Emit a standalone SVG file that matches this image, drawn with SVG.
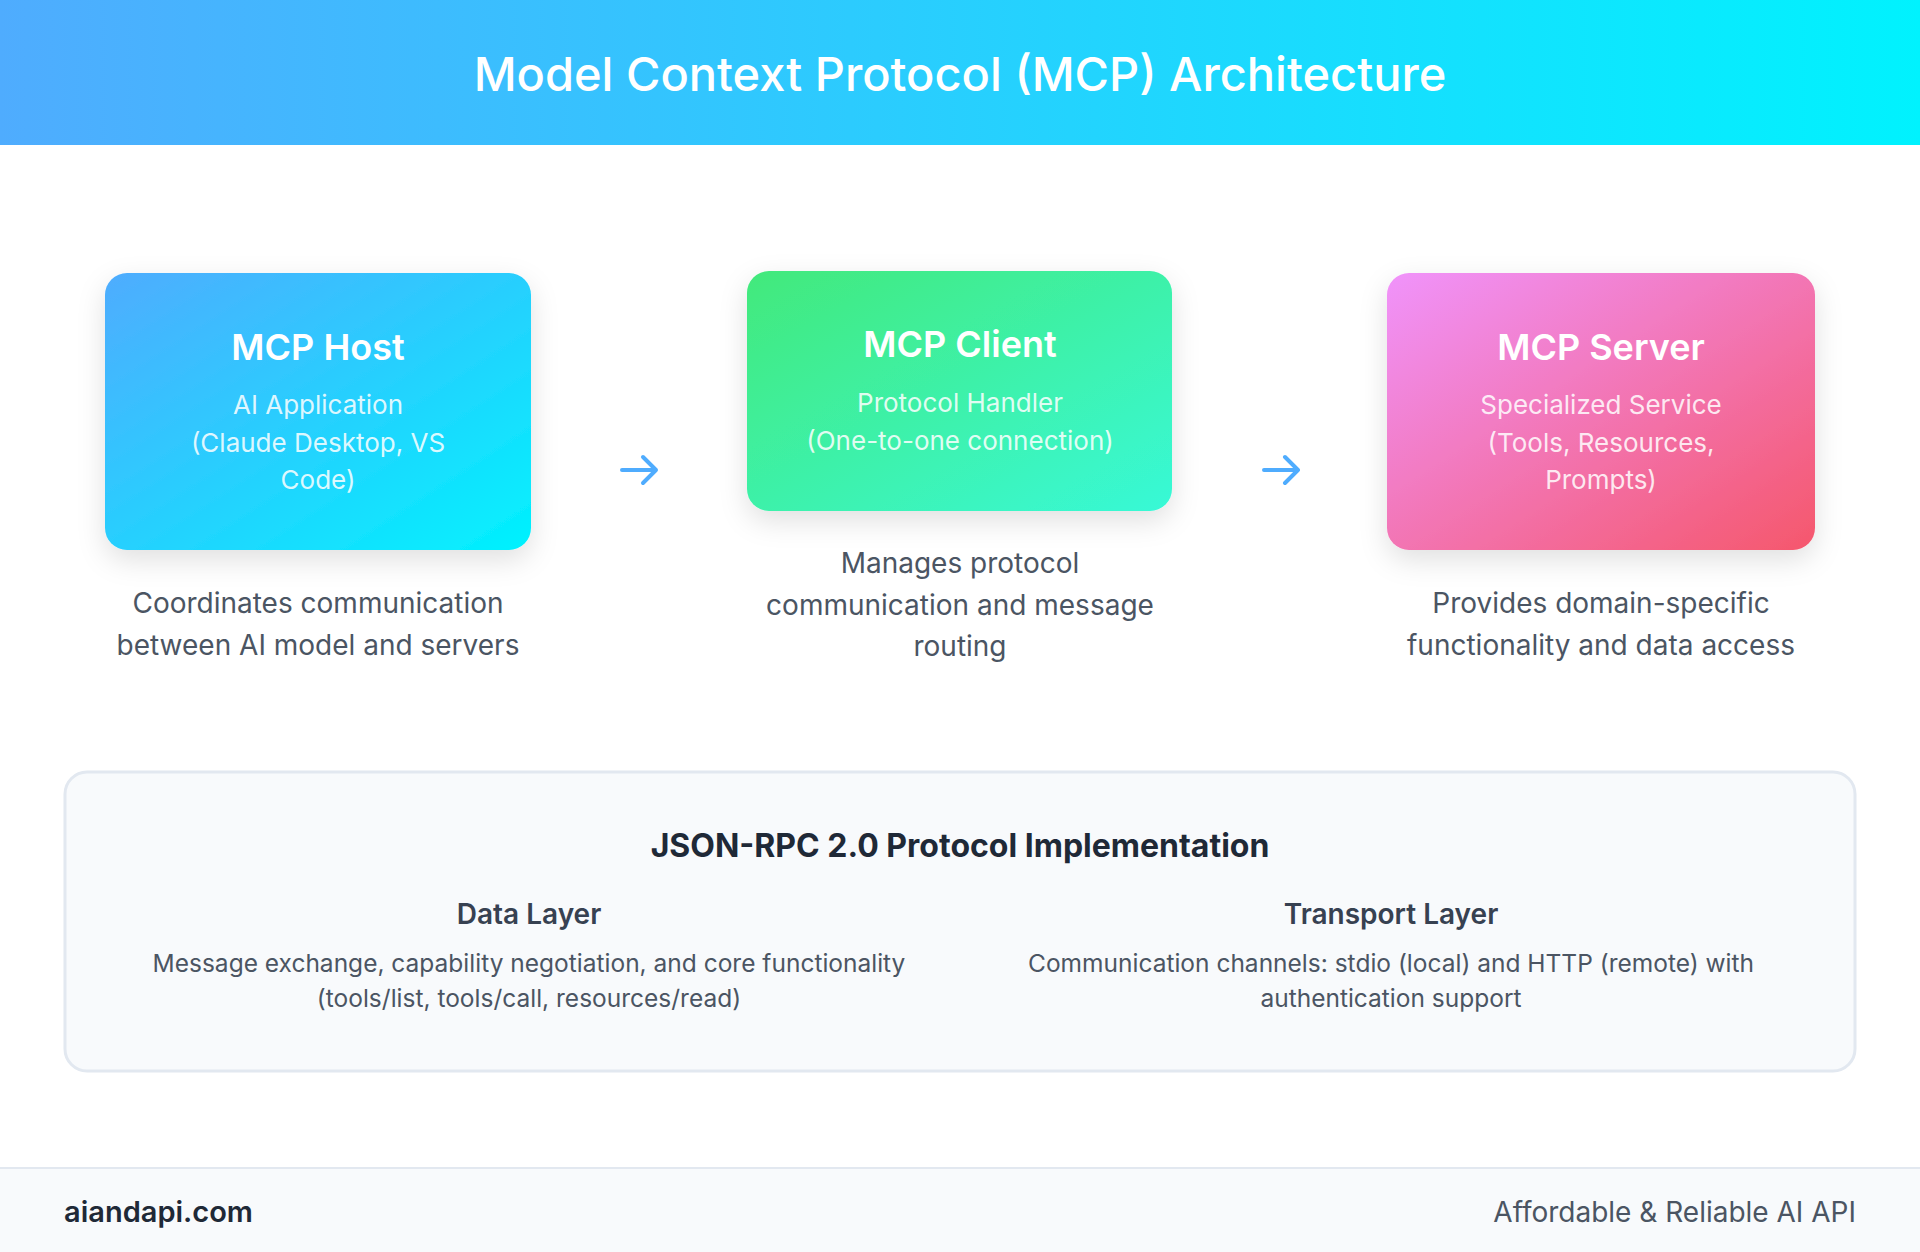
<svg xmlns="http://www.w3.org/2000/svg" width="1920" height="1252" viewBox="0 0 1920 1252">
<defs>
<linearGradient id="gHead" x1="0" y1="0" x2="1" y2="0"><stop offset="0" stop-color="#4facfe"/><stop offset="1" stop-color="#00f2fe"/></linearGradient>
<linearGradient id="gHost" x1="0" y1="0" x2="1" y2="1"><stop offset="0" stop-color="#4facfe"/><stop offset="1" stop-color="#00f2fe"/></linearGradient>
<linearGradient id="gClient" x1="0" y1="0" x2="1" y2="1"><stop offset="0" stop-color="#43e97b"/><stop offset="1" stop-color="#38f9d7"/></linearGradient>
<linearGradient id="gServer" x1="0" y1="0" x2="1" y2="1"><stop offset="0" stop-color="#f093fb"/><stop offset="1" stop-color="#f5576c"/></linearGradient>
<filter id="sh" x="-20%" y="-20%" width="140%" height="150%"><feDropShadow dx="0" dy="10" stdDeviation="14" flood-color="#000" flood-opacity="0.12"/></filter>
</defs>
<style>
text{font-family:Inter,"Noto Sans","Liberation Sans",sans-serif;text-anchor:middle}
.t{fill:#fff;font-size:36px;font-weight:600}
.s{fill:#fff;fill-opacity:0.85;font-size:26px}
.d{fill:#4b5563;font-size:28px}
.h{fill:#1f2937;font-size:32px;font-weight:700}
.l{fill:#374151;font-size:28px;font-weight:600}
.p{fill:#4b5563;font-size:24.5px}
.arr{stroke:#4facfe;stroke-width:4;fill:none;stroke-linecap:round;stroke-linejoin:round}
</style>
<rect width="1920" height="1252" fill="#fff"/>
<rect width="1920" height="145" fill="url(#gHead)"/>
<text x="960" y="91" fill="#fff" font-size="47" font-weight="500">Model Context Protocol (MCP) Architecture</text>
<g id="host">
<rect x="105" y="273" width="426" height="277" rx="22" fill="url(#gHost)" filter="url(#sh)"/>
<text class="t" x="318" y="360">MCP Host</text>
<text class="s" x="318" y="414">AI Application</text>
<text class="s" x="318" y="452">(Claude Desktop, VS</text>
<text class="s" x="318" y="489">Code)</text>
<text class="d" x="318" y="613">Coordinates communication</text>
<text class="d" x="318" y="655">between AI model and servers</text>
</g>
<g id="client">
<rect x="747" y="271" width="425" height="240" rx="22" fill="url(#gClient)" filter="url(#sh)"/>
<text class="t" x="960" y="357">MCP Client</text>
<text class="s" x="960" y="412">Protocol Handler</text>
<text class="s" x="960" y="450">(One-to-one connection)</text>
<text class="d" x="960" y="573">Manages protocol</text>
<text class="d" x="960" y="615">communication and message</text>
<text class="d" x="960" y="656">routing</text>
</g>
<g id="server">
<rect x="1387" y="273" width="428" height="277" rx="22" fill="url(#gServer)" filter="url(#sh)"/>
<text class="t" x="1601" y="360">MCP Server</text>
<text class="s" x="1601" y="414">Specialized Service</text>
<text class="s" x="1601" y="452">(Tools, Resources,</text>
<text class="s" x="1601" y="489">Prompts)</text>
<text class="d" x="1601" y="613">Provides domain-specific</text>
<text class="d" x="1601" y="655">functionality and data access</text>
</g>
<g id="connectors">
<path class="arr" d="M622 470H656M643 457L656 470L643 483"/>
<path class="arr" d="M1264 470H1298M1285 457L1298 470L1285 483"/>
</g>
<g id="protocol">
<rect x="65" y="772" width="1790" height="299" rx="22" fill="#f8fafc" stroke="#e2e8f0" stroke-width="3"/>
<text class="h" x="960" y="857">JSON-RPC 2.0 Protocol Implementation</text>
<text class="l" x="529" y="924">Data Layer</text>
<text class="p" x="529" y="972">Message exchange, capability negotiation, and core functionality</text>
<text class="p" x="529" y="1007">(tools/list, tools/call, resources/read)</text>
<text class="l" x="1391" y="924">Transport Layer</text>
<text class="p" x="1391" y="972">Communication channels: stdio (local) and HTTP (remote) with</text>
<text class="p" x="1391" y="1007">authentication support</text>
</g>
<g id="footer">
<rect x="0" y="1168" width="1920" height="84" fill="#f8fafc"/>
<line x1="0" y1="1168" x2="1920" y2="1168" stroke="#e2e8f0" stroke-width="2"/>
<text x="64" y="1222" fill="#1f2937" font-size="29" font-weight="600" style="text-anchor:start">aiandapi.com</text>
<text x="1856" y="1222" fill="#4b5563" font-size="28" style="text-anchor:end">Affordable &amp; Reliable AI API</text>
</g>
</svg>
